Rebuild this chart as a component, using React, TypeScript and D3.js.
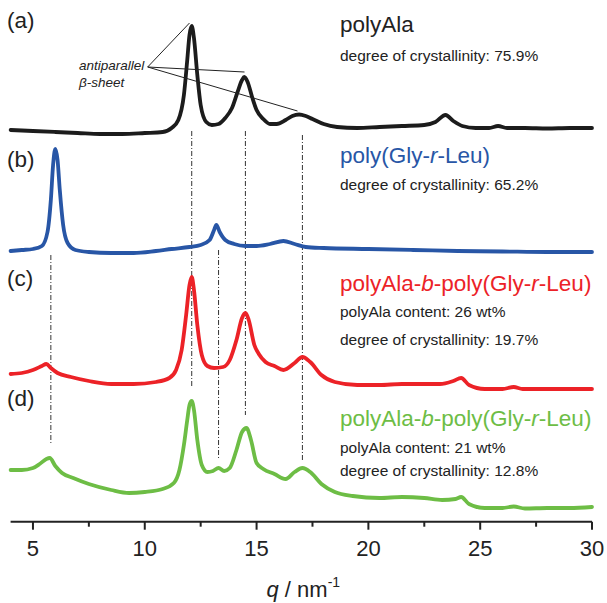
import React from 'react';
import * as d3 from 'd3';

// WAXS profiles, q in nm^-1, intensity in arbitrary units (baseline-ish)
const qA = [4, 5, 6, 7, 8, 9, 10, 10.8, 11.2, 11.5, 11.75, 11.9, 12.0, 12.1, 12.2, 12.35, 12.5, 12.75, 13.0, 13.3, 13.6, 13.9, 14.15, 14.35, 14.45, 14.6, 14.8, 15.0, 15.3, 15.6, 15.9, 16.3, 16.6, 16.9, 17.2, 17.5, 18.0, 18.6, 19.5, 20.5, 21.5, 22.5, 23.0, 23.45, 23.8, 24.2, 24.8, 25.4, 25.8, 26.2, 27, 28, 29, 30];
const iA = [11, 10, 9, 8, 7, 7, 8, 9, 13, 21, 46, 81, 106, 115, 103, 66, 36, 19, 16, 17, 23, 33, 49, 61, 64, 59, 44, 31, 22, 17, 17, 21, 25, 26.5, 25, 22, 17, 14, 13, 14, 15, 16, 19, 26, 20, 15, 13, 13, 15, 13, 13, 12.5, 13, 13];

const qB = [4, 4.5, 5, 5.4, 5.65, 5.8, 5.9, 6.0, 6.1, 6.2, 6.35, 6.55, 6.9, 7.5, 8.5, 9.5, 10.5, 11.2, 12.0, 12.5, 12.9, 13.1, 13.2, 13.35, 13.6, 14.0, 14.5, 15.0, 15.6, 16.2, 16.7, 17.2, 18, 20, 22, 24, 26, 28, 30];
const iB = [10, 11, 12, 15, 29, 61, 96, 112, 101, 71, 36, 18, 11, 9, 8, 8, 10, 12, 14, 16, 21, 31, 36, 29, 21, 17, 15, 15, 17, 20, 17, 14, 13, 12, 11, 10, 9.5, 9, 9];

const qC = [4, 4.5, 5, 5.4, 5.6, 5.8, 6.1, 6.7, 7.5, 8.5, 9.5, 10.5, 11.1, 11.4, 11.65, 11.85, 12.0, 12.1, 12.2, 12.35, 12.55, 12.8, 13.1, 13.5, 13.8, 14.1, 14.35, 14.5, 14.65, 14.9, 15.1, 15.4, 15.8, 16.2, 16.7, 17.05, 17.4, 17.9, 18.5, 19.5, 20.5, 21.5, 22.5, 23.2, 23.8, 24.15, 24.5, 25.2, 26.0, 26.5, 26.9, 28, 29, 30];
const iC = [22, 23, 26, 30, 32, 28, 23, 19, 15, 12, 12, 14, 18, 26, 46, 81, 111, 119, 106, 71, 41, 30, 28, 29, 36, 56, 78, 83, 76, 51, 42, 34, 30, 26, 33, 39, 34, 21, 14, 11, 11, 12, 12, 12, 15, 18, 11, 7, 7, 9, 7, 7, 7, 7];

const qD = [4, 4.5, 5, 5.3, 5.6, 5.75, 6.0, 6.3, 6.8, 7.5, 8.5, 9.3, 10.0, 10.8, 11.3, 11.55, 11.75, 11.9, 12.0, 12.1, 12.2, 12.35, 12.55, 12.8, 13.05, 13.3, 13.55, 13.8, 14.1, 14.35, 14.55, 14.75, 15.0, 15.3, 15.8, 16.3, 16.7, 17.05, 17.4, 17.9, 18.5, 19.3, 20.5, 21.5, 22.5, 23.3, 23.9, 24.15, 24.5, 25.2, 26.0, 26.5, 27, 28, 29, 30];
const iD = [46, 46, 48, 52, 57, 58, 50, 43, 38, 32, 26, 23, 24, 27, 33, 46, 71, 96, 111, 115, 106, 76, 51, 44, 45, 48, 45, 48, 66, 84, 88, 76, 53, 47, 42, 37, 44, 48, 44, 32, 24, 20, 18, 19, 18, 16, 17, 19, 12, 8, 8, 9.5, 7.5, 8, 8, 9];

const sampleNames = ['polyAla', 'poly(Gly-r-Leu)', 'polyAla-b-poly(Gly-r-Leu)', 'polyAla-b-poly(Gly-r-Leu)'];
const panelLabels = ['(a)', '(b)', '(c)', '(d)'];
const polyAlaContent = ['', '', '26 wt%', '21 wt%'];
const crystallinity = ['75.9%', '65.2%', '19.7%', '12.8%'];

// dash-dot guide lines: peak position and vertical extent (stacked units)
const guideQ = [12.1, 14.5, 17.05, 5.8, 13.3];
const guideTop = [390, 390, 386, 266, 271];
const guideBottom = [133, 106, 61, 78, 61];

// antiparallel beta-sheet reflections of polyAla
const sheetPeaksQ = [12.0, 14.46, 16.83];
const sheetPeaksI = [498, 449, 410];

const xTicks = [5, 10, 15, 20, 25, 30];
const xMinorTicks = [7.5, 12.5, 17.5, 22.5, 27.5];

const W = 607;
const H = 603;
const FONT = 'Liberation Sans, Arial, Helvetica, sans-serif';

export default function App() {
  const x = d3.scaleLinear().domain([4, 30]).range([10.6, 592]);
  const y = d3.scaleLinear().domain([0, 510]).range([521, 11]);

  const axisY = 521.7;
  const offsets = [380, 260, 125, 5];
  const colors = ['#1c1c1c', '#2856a6', '#ec2227', '#6dbd45'];
  const series = [
    { q: qA, v: iA },
    { q: qB, v: iB },
    { q: qC, v: iC },
    { q: qD, v: iD },
  ];

  const line = d3
    .line<[number, number]>()
    .x((d) => x(d[0]))
    .y((d) => y(d[1]))
    .curve(d3.curveMonotoneX);

  const titleY = [32, 163, 291, 426];
  const sub1Y = [61, 190, 317, 453];
  const sub2Y = [61, 190, 345, 476];
  const labelY = [28, 167, 286, 406];

  // annotation anchor
  const annoQ = 10.13;
  const annoV = 454;

  const renderName = (name: string) => {
    // italic "b" and "r" in copolymer names
    const parts = name.split(/(-b-|-r-)/);
    return parts.map((p, i) =>
      p === '-b-' || p === '-r-' ? (
        <React.Fragment key={i}>
          -<tspan fontStyle="italic">{p[1]}</tspan>-
        </React.Fragment>
      ) : (
        <React.Fragment key={i}>{p}</React.Fragment>
      )
    );
  };

  return (
    <svg
      width={W}
      height={H}
      style={{ position: 'absolute', left: 0, top: 0, background: '#fff' }}
      fontFamily={FONT}
    >
      {/* guide lines */}
      {guideQ.map((q, i) => (
        <line
          key={'g' + i}
          x1={x(q)}
          x2={x(q)}
          y1={y(guideTop[i])}
          y2={y(guideBottom[i])}
          stroke="#333"
          strokeWidth={1}
          strokeDasharray="5,2,1,2"
        />
      ))}

      {/* curves */}
      {series.map((s, i) => (
        <path
          key={'c' + i}
          d={line(s.q.map((q, j) => [q, s.v[j] + offsets[i]] as [number, number])) || ''}
          fill="none"
          stroke={colors[i]}
          strokeWidth={3.8}
          strokeLinejoin="round"
          strokeLinecap="round"
        />
      ))}

      {/* annotation */}
      {sheetPeaksQ.map((q, i) => (
        <line
          key={'a' + i}
          x1={x(annoQ)}
          y1={y(annoV)}
          x2={x(q)}
          y2={y(sheetPeaksI[i])}
          stroke="#222"
          strokeWidth={1}
        />
      ))}
      <text x={79} y={70} fontSize={13.5} fontStyle="italic" fill="#222">
        antiparallel
      </text>
      <text x={79} y={87} fontSize={13.5} fontStyle="italic" fill="#222">
        β-sheet
      </text>

      {/* panel labels and sample texts */}
      {panelLabels.map((l, i) => (
        <text key={'l' + i} x={7} y={labelY[i]} fontSize={22.5} fill="#222">
          {l}
        </text>
      ))}
      {sampleNames.map((n, i) => (
        <g key={'n' + i}>
          <text x={340} y={titleY[i]} fontSize={22.5} fill={i === 0 ? '#222' : colors[i]}>
            {renderName(n)}
          </text>
          {polyAlaContent[i] && (
            <text x={340} y={sub1Y[i]} fontSize={15.5} fill="#222">
              polyAla content: {polyAlaContent[i]}
            </text>
          )}
          <text x={340} y={sub2Y[i]} fontSize={15.5} fill="#222">
            degree of crystallinity: {crystallinity[i]}
          </text>
        </g>
      ))}

      {/* x axis */}
      <line x1={x(4)} x2={x(30)} y1={axisY} y2={axisY} stroke="#222" strokeWidth={2} />
      {xTicks.map((t) => (
        <g key={'t' + t}>
          <line x1={x(t)} x2={x(t)} y1={axisY} y2={axisY + 8} stroke="#222" strokeWidth={2} />
          <text x={x(t)} y={556} fontSize={22} textAnchor="middle" fill="#222">
            {t}
          </text>
        </g>
      ))}
      {xMinorTicks.map((t) => (
        <line key={'m' + t} x1={x(t)} x2={x(t)} y1={axisY} y2={axisY + 5} stroke="#222" strokeWidth={2} />
      ))}
      <text x={(x(4) + x(30)) / 2 + 2} y={597} fontSize={22} textAnchor="middle" fill="#222">
        <tspan fontStyle="italic">q</tspan> / nm
        <tspan fontSize={14} dy={-10}>-1</tspan>
      </text>
    </svg>
  );
}
